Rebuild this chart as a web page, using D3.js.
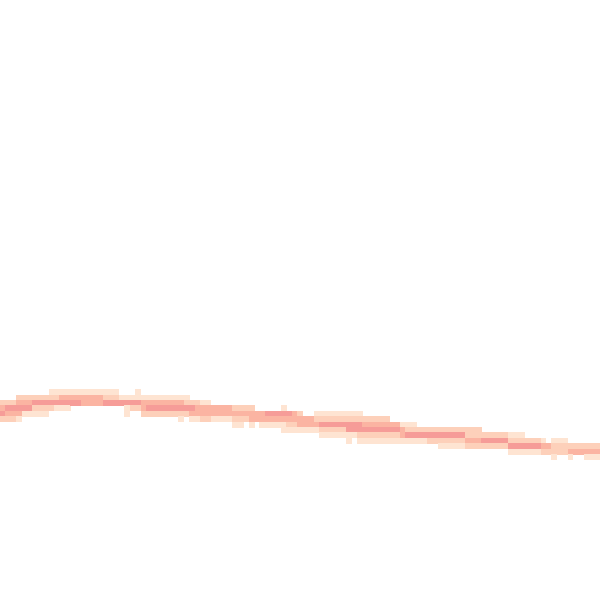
<!DOCTYPE html>
<html>
<head>
<meta charset="utf-8">
<script src="https://cdn.jsdelivr.net/npm/d3@7"></script>
<style>
  html, body { margin: 0; padding: 0; background: #fff; }
  svg { display: block; }
</style>
</head>
<body>
<svg id="chart" width="600" height="600"></svg>
<script>
// Heatmap of a dense line: for each x bin (column), the first y bin (row)
// it occupies and the density level of each successive row (0 = empty).
const colStart = [
  74,74,74,73,73,73,73,73,73,72,
  72,72,72,72,72,72,72,72,72,72,
  72,72,73,73,73,72,73,73,73,73,
  73,73,73,73,73,74,74,74,74,75,
  75,75,75,75,75,75,75,76,76,76,
  76,76,75,76,76,76,77,77,76,76,
  76,76,76,76,76,76,76,77,77,77,
  77,77,78,78,78,78,78,79,79,79,
  79,79,79,79,79,79,79,79,79,80,
  80,80,80,80,80,80,80,81,81,81,
  81,82,81,81,81,82,82,82,82,82,
  82
];
const colLevels = [
  "2342","2432","2432","23431","2341","2341","2421","2421","2421","1242",
  "1241","1341","1341","134","134","133","133","133","133","124",
  "124","124","14","1411","142","1142","1332","1342","1342","1342",
  "1342","1342","1342","13421","1242","2431","2331","1332","1332","331",
  "331","331","331","2321","2321","232","2331","33","331","431",
  "431","431","14311","4321","3321","2331","331","331","1231","12421",
  "12421","12421","12421","12421","124411","12441","124421","23421","23421","23421",
  "23421","23421","3421","3421","1331","1241","1241","241","241","242",
  "242","2421","2421","2421","2421","2421","2232","2232","2232","242",
  "242","242","242","242","1241","1241","1241","241","241","241",
  "132","32","1221","122","122","231","23","23","231","231",
  "231"
];
const levelDomain = [1, 2, 3, 4];
const levelColors = ["#fee4d2", "#fdd0ba", "#fbb4a2", "#f69c98"];

const W = 600, H = 600;
const nCols = 111, nRows = 111;

const cells = [];
colStart.forEach((r0, c) => {
  const s = colLevels[c];
  for (let i = 0; i < s.length; i++) {
    const v = +s[i];
    if (v > 0) cells.push({ col: c, row: r0 + i, level: v });
  }
});

const x = d3.scaleLinear().domain([0, nCols]).range([0, W]);
const y = d3.scaleLinear().domain([0, nRows]).range([0, H]);
const color = d3.scaleOrdinal().domain(levelDomain).range(levelColors);

const svg = d3.select("#chart");
svg.append("g")
  .attr("shape-rendering", "crispEdges")
  .selectAll("rect")
  .data(cells)
  .join("rect")
  .attr("x", d => x(d.col))
  .attr("y", d => y(d.row))
  .attr("width", d => x(d.col + 1) - x(d.col) + 0.5)
  .attr("height", d => y(d.row + 1) - y(d.row) + 0.5)
  .attr("fill", d => color(d.level));
</script>
</body>
</html>
